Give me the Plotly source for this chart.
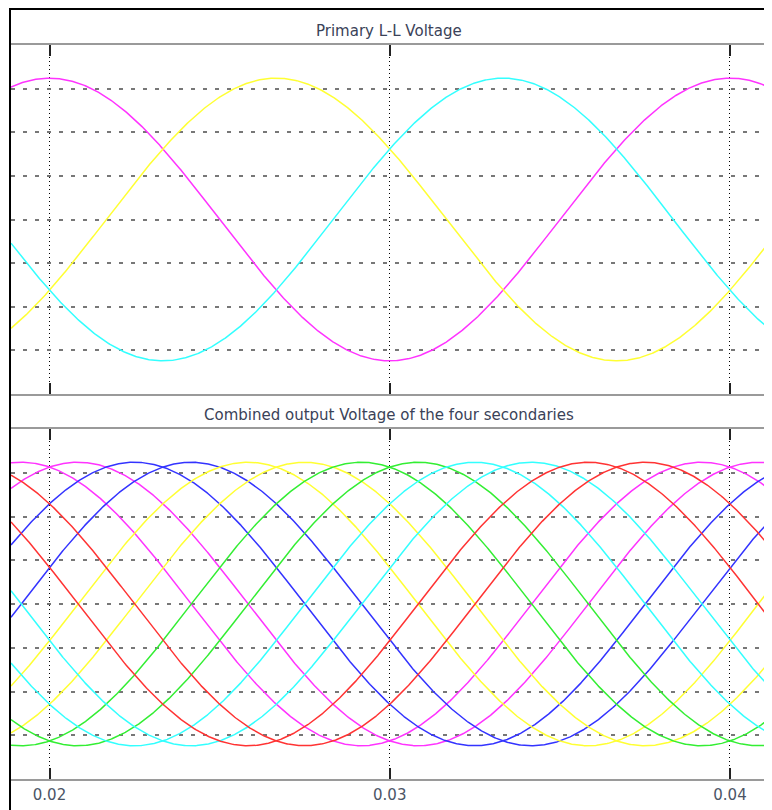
import numpy as np
import plotly.graph_objects as go

# ---- data ----
frequency_hz = 50.0
amplitude = 3.24                      # in grid units (grid spacing = 1)
t_ref = 0.02                          # magenta primary peaks here
t_start, t_end = 0.018868, 0.041235   # visible time window

primary_names = ["Vab", "Vbc", "Vca"]
primary_phase_deg = [0, 120, 240]
primary_colors = ["#ff33ff", "#ffff33", "#33ffff"]

secondary_names = ["S1a", "S2a", "S3a", "S4a", "S1b", "S2b",
                   "S3b", "S4b", "S1c", "S2c", "S3c", "S4c"]
secondary_phase_deg = [-15, 15, 45, 75, 105, 135, 165, 195, 225, 255, 285, 315]
secondary_colors = ["#ff33ff", "#ff33ff", "#3333ff", "#3333ff", "#ffff33", "#ffff33",
                    "#33ee33", "#33ee33", "#33ffff", "#33ffff", "#ff3333", "#ff3333"]

time_ticks = [0.02, 0.03, 0.04]
tick_labels = ["0.02", "0.03", "0.04"]
grid_levels = [-3, -2, -1, 0, 1, 2, 3]

top_title = "Primary L-L Voltage"
bottom_title = "Combined output Voltage of the four secondaries"

# ---- build figure ----
OFF = 8                      # page body margin
W, H = 772 - OFF, 810 - OFF
t = np.linspace(t_start, t_end, 800)


def wave(phase):
    return amplitude * np.cos(2 * np.pi * frequency_hz * (t - t_ref) - np.deg2rad(phase))


fig = go.Figure()
for name, ph, col in zip(primary_names, primary_phase_deg, primary_colors):
    fig.add_trace(go.Scatter(x=t, y=wave(ph), mode="lines", name=name,
                             line=dict(color=col, width=1.5), xaxis="x", yaxis="y"))
for name, ph, col in zip(secondary_names, secondary_phase_deg, secondary_colors):
    fig.add_trace(go.Scatter(x=t, y=wave(ph), mode="lines", name=name,
                             line=dict(color=col, width=1.5), xaxis="x2", yaxis="y2"))


def py(y):
    return 1 - (y - OFF) / H


def px(x):
    return (x - OFF) / W


xdom = [px(11), 1.0]
common_x = dict(range=[t_start, t_end], domain=xdom, tickvals=time_ticks, ticktext=tick_labels,
                showgrid=True, gridcolor="#000000", griddash="1px,3px", gridwidth=1,
                ticks="inside", ticklen=11, tickwidth=2, tickcolor="#222222",
                showline=True, linecolor="#9a9a9a", linewidth=2, mirror="ticks",
                zeroline=False)
common_y = dict(range=[-4, 4], tickvals=grid_levels, showticklabels=False,
                showgrid=True, gridcolor="#777777", griddash="4px,8px", gridwidth=1.8,
                ticks="", zeroline=False, showline=False)

fig.update_layout(
    width=W, height=H,
    margin=dict(l=0, r=0, t=0, b=0),
    paper_bgcolor="white", plot_bgcolor="white",
    showlegend=False,
    xaxis=dict(**common_x, anchor="y", showticklabels=False),
    xaxis2=dict(**common_x, anchor="y2", matches="x", showticklabels=True,
                ticklabelstandoff=1,
                tickfont=dict(family="DejaVu Sans", size=15, color="#4b5566")),
    yaxis=dict(**common_y, domain=[py(394), py(45)], anchor="x"),
    yaxis2=dict(**common_y, domain=[py(779), py(429)], anchor="x2"),
)

# frame: thick top and left border
fig.add_shape(type="line", xref="paper", yref="paper", x0=px(9), x1=1, y0=py(8.8), y1=py(8.8),
              line=dict(color="black", width=2.5))
fig.add_shape(type="line", xref="paper", yref="paper", x0=px(10), x1=px(10), y0=py(8), y1=0,
              line=dict(color="black", width=2))

fig.add_annotation(text=top_title, xref="paper", yref="paper", x=px(389), y=py(31),
                   showarrow=False, xanchor="center", yanchor="middle",
                   font=dict(family="DejaVu Sans", size=15, color="#3a4258"))
fig.add_annotation(text=bottom_title, xref="paper", yref="paper", x=px(389), y=py(415),
                   showarrow=False, xanchor="center", yanchor="middle",
                   font=dict(family="DejaVu Sans", size=15, color="#3a4258"))

fig.write_html("out.html")
